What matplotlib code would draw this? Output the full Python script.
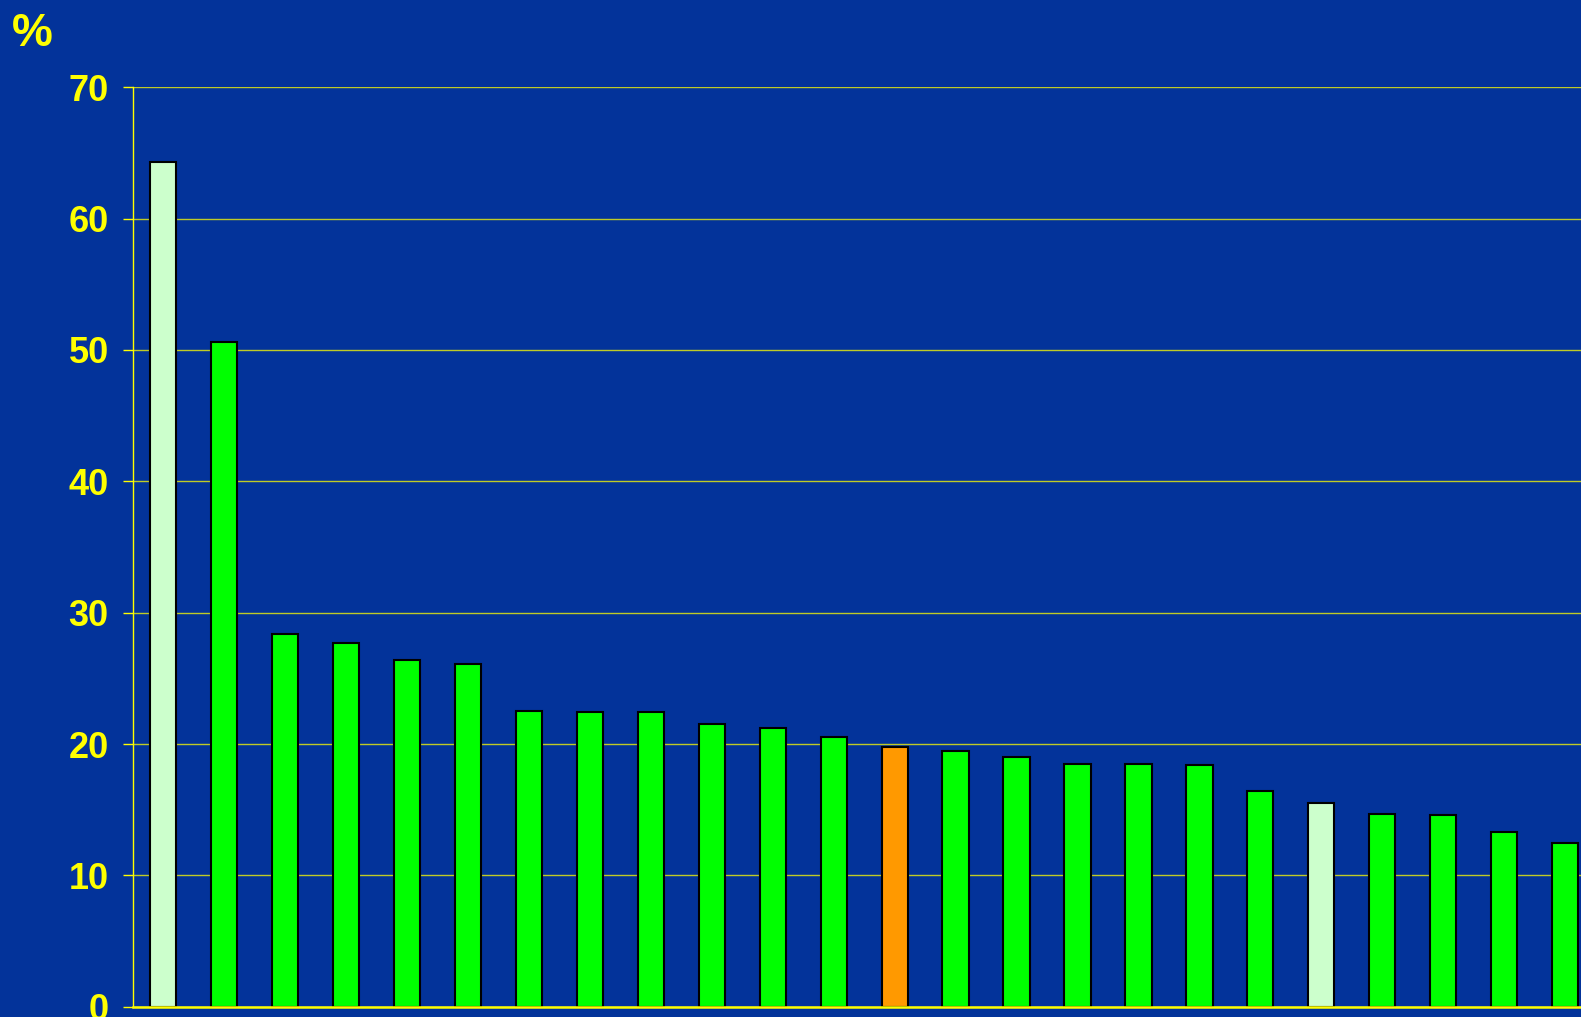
import matplotlib
matplotlib.use('Agg')
import matplotlib.pyplot as plt
import numpy as np

# bar values in %, left to right
values = [64.3, 50.6, 28.4, 27.7, 26.4, 26.1, 22.5, 22.4, 22.4, 21.5, 21.2, 20.5,
          19.8, 19.5, 19.0, 18.5, 18.5, 18.4, 16.4, 15.5, 14.7, 14.6, 13.3, 12.5]
# colour group of each bar: 'l' light, 'g' green, 'o' orange
groups = ['l', 'g', 'g', 'g', 'g', 'g', 'g', 'g', 'g', 'g', 'g', 'g',
          'o', 'g', 'g', 'g', 'g', 'g', 'g', 'l', 'g', 'g', 'g', 'g']
yticks = [0, 10, 20, 30, 40, 50, 60, 70]

bg = '#03339A'
yellow = '#FFFF00'
palette = {'l': '#CCFFCC', 'g': '#00FF00', 'o': '#FF9900'}

fig = plt.figure(figsize=(15.81, 10.17), dpi=100)
fig.patch.set_facecolor(bg)
ax = fig.add_axes([0.0839, 0.0101, 0.9161, 0.9041])
ax.set_facecolor(bg)

x = np.arange(len(values))
ax.bar(x, values, width=0.43, color=[palette[g] for g in groups],
       edgecolor='black', linewidth=1.5, zorder=3)

ax.set_xlim(-0.5, 23.26)
ax.set_ylim(0, 70)
ax.set_yticks(yticks)
ax.set_xticks([])
ax.yaxis.grid(True, color=yellow, linewidth=1.0, alpha=0.75, zorder=0)
ax.set_axisbelow(True)

for s in ['top', 'right']:
    ax.spines[s].set_visible(False)
ax.spines['left'].set_color(yellow)
ax.spines['left'].set_linewidth(1.0)
ax.spines['bottom'].set_color(yellow)
ax.spines['bottom'].set_linewidth(1.8)
ax.spines['bottom'].set_zorder(4)

ax.tick_params(axis='y', colors=yellow, length=7.2, width=1.0, pad=10)
for lbl in ax.get_yticklabels():
    lbl.set_fontfamily('Liberation Sans')
    lbl.set_fontweight('bold')
    lbl.set_fontsize(26)
    lbl.set_color(yellow)

fig.text(12 / 1581, 1 - 12 / 1017, '%', color=yellow, fontsize=33,
         fontweight='bold', family='Liberation Sans', ha='left', va='top')

fig.savefig('out.png', dpi=100, facecolor=bg)
